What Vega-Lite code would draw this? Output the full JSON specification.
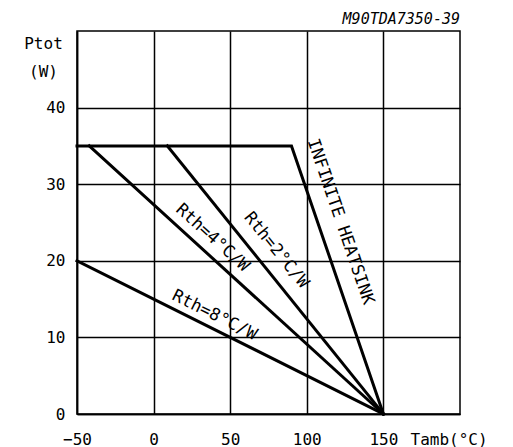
{
  "$schema": "https://vega.github.io/schema/vega-lite/v6.json",
  "width": 383,
  "height": 383,
  "autosize": {"type": "none"},
  "padding": {"left": 77, "top": 31, "right": 53, "bottom": 33},
  "background": "white",
  "config": {
    "view": {"stroke": "black", "strokeWidth": 1.5},
    "font": "DejaVu Sans Mono",
    "text": {"font": "DejaVu Sans Mono"}
  },
  "title": {
    "text": "M90TDA7350-39",
    "anchor": "end",
    "frame": "group",
    "font": "DejaVu Sans Mono",
    "fontStyle": "italic",
    "fontWeight": "normal",
    "fontSize": 15,
    "color": "black",
    "offset": 4
  },
  "datasets": {
    "curves": [
      {"series": "Infinite heatsink", "t": -50, "p": 35},
      {"series": "Infinite heatsink", "t": 90, "p": 35},
      {"series": "Infinite heatsink", "t": 150, "p": 0},
      {"series": "Rth=2", "t": 9, "p": 35},
      {"series": "Rth=2", "t": 150, "p": 0},
      {"series": "Rth=4", "t": -42, "p": 35},
      {"series": "Rth=4", "t": 150, "p": 0},
      {"series": "Rth=8", "t": -50, "p": 20},
      {"series": "Rth=8", "t": 150, "p": 0}
    ]
  },
  "layer": [
    {
      "data": {"name": "curves"},
      "mark": {"type": "line", "color": "black", "strokeWidth": 3, "strokeCap": "square"},
      "encoding": {
        "x": {
          "field": "t", "type": "quantitative",
          "scale": {"domain": [-50, 200], "nice": false, "zero": false},
          "axis": {
            "values": [-50, 0, 50, 100, 150],
            "grid": true, "gridColor": "black", "gridOpacity": 1, "gridWidth": 1.5,
            "domain": true, "domainColor": "black", "domainWidth": 1.5,
            "ticks": false, "labelPadding": 30, "labelBaseline": "alphabetic",
            "labelFlush": false, "labelOverlap": false,
            "labelFont": "DejaVu Sans Mono", "labelFontSize": 16, "labelColor": "black",
            "title": "Tamb(°C)", "titleFont": "DejaVu Sans Mono", "titleFontSize": 16,
            "titleFontWeight": "normal", "titleColor": "black",
            "titleAlign": "left", "titleAnchor": null, "titleX": 333, "titleY": 30,
            "titleBaseline": "alphabetic"
          }
        },
        "y": {
          "field": "p", "type": "quantitative",
          "scale": {"domain": [0, 50], "nice": false},
          "axis": {
            "values": [0, 10, 20, 30, 40],
            "grid": true, "gridColor": "black", "gridOpacity": 1, "gridWidth": 1.5,
            "domain": true, "domainColor": "black", "domainWidth": 1.5,
            "ticks": false, "labelPadding": 12, "labelFlush": false, "labelOverlap": false,
            "labelFont": "DejaVu Sans Mono", "labelFontSize": 16, "labelColor": "black",
            "title": ["Ptot", "(W)"], "titleFont": "DejaVu Sans Mono", "titleFontSize": 16,
            "titleFontWeight": "normal", "titleColor": "black", "titleAngle": 0,
            "titleAlign": "center", "titleAnchor": null, "titleX": -34, "titleY": 17,
            "titleBaseline": "alphabetic", "titleLineHeight": 28
          }
        },
        "detail": {"field": "series", "type": "nominal"}
      }
    },
    {
      "data": {"values": [{"t": 122, "p": 25.1, "label": "INFINITE HEATSINK"}]},
      "mark": {"type": "text", "angle": 71, "fontSize": 17, "color": "black", "align": "center", "baseline": "middle"},
      "encoding": {
        "x": {"field": "t", "type": "quantitative"},
        "y": {"field": "p", "type": "quantitative"},
        "text": {"field": "label"}
      }
    },
    {
      "data": {"values": [{"t": 80.1, "p": 21.4, "label": "Rth=2°C/W"}]},
      "mark": {"type": "text", "angle": 51, "fontSize": 17, "color": "black", "align": "center", "baseline": "middle"},
      "encoding": {
        "x": {"field": "t", "type": "quantitative"},
        "y": {"field": "p", "type": "quantitative"},
        "text": {"field": "label"}
      }
    },
    {
      "data": {"values": [{"t": 38.5, "p": 23.0, "label": "Rth=4°C/W"}]},
      "mark": {"type": "text", "angle": 42, "fontSize": 17, "color": "black", "align": "center", "baseline": "middle"},
      "encoding": {
        "x": {"field": "t", "type": "quantitative"},
        "y": {"field": "p", "type": "quantitative"},
        "text": {"field": "label"}
      }
    },
    {
      "data": {"values": [{"t": 39.8, "p": 12.9, "label": "Rth=8°C/W"}]},
      "mark": {"type": "text", "angle": 26.5, "fontSize": 17, "color": "black", "align": "center", "baseline": "middle"},
      "encoding": {
        "x": {"field": "t", "type": "quantitative"},
        "y": {"field": "p", "type": "quantitative"},
        "text": {"field": "label"}
      }
    }
  ]
}
